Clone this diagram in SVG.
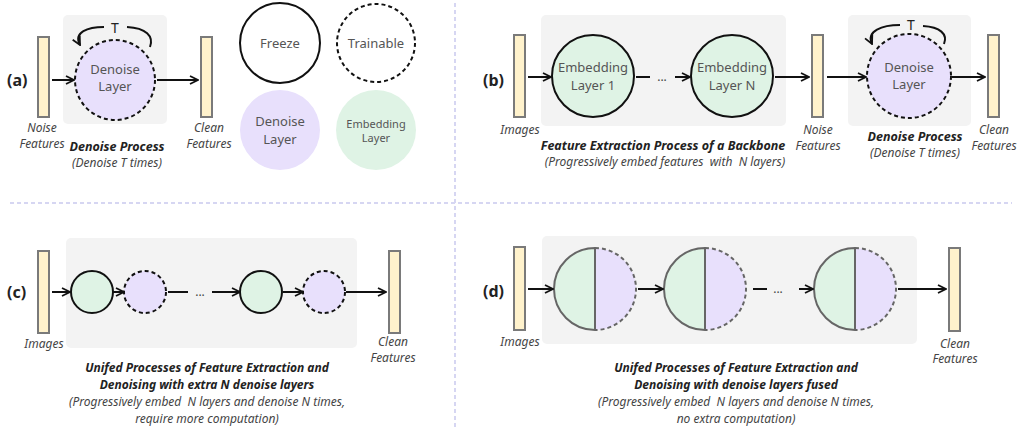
<svg xmlns="http://www.w3.org/2000/svg" width="1020" height="429" viewBox="0 0 1020 429">
<defs>
<marker id="ah" viewBox="0 0 10 10" refX="9" refY="5" markerWidth="10" markerHeight="10" markerUnits="userSpaceOnUse" orient="auto">
<path d="M1,1 L9,5 L1,9" fill="none" stroke="#111" stroke-width="1.8"/>
</marker>
<style>
.bg{fill:#f3f3f3}
.bar{fill:#fff2cc;stroke:#7a7a7a;stroke-width:2}
.den{fill:#e8e0fc}
.emb{fill:#dff3e5}
.solid{stroke:#111;stroke-width:2}
.dash{stroke:#111;stroke-width:2;stroke-dasharray:4 3}
.hs{fill:none;stroke:#666;stroke-width:2}
.hd{fill:none;stroke:#666;stroke-width:2;stroke-dasharray:4 3}
.arr{fill:none;stroke:#111;stroke-width:2;marker-end:url(#ah)}
.ln{fill:none;stroke:#111;stroke-width:2}
.div{stroke:#d6d6f2;stroke-width:2;stroke-dasharray:4 3}
text{font-family:"Noto Sans","Open Sans","Liberation Sans",sans-serif;white-space:pre}
.lab{font-size:16px;font-weight:bold;fill:#222}
.ct{font-size:13px;fill:#555;text-anchor:middle}
.cs{font-size:11px;fill:#555;text-anchor:middle}
.it{font-size:12px;font-style:italic;fill:#444;text-anchor:middle}
.bi{font-size:12.5px;font-style:italic;font-weight:bold;fill:#222;text-anchor:middle}
.bi2{font-size:12px;font-style:italic;font-weight:bold;fill:#222;text-anchor:middle}
.dots{font-size:12px;fill:#444;text-anchor:middle}
</style>
</defs>

<g id="dividers">
<line class="div" x1="455" y1="3" x2="455" y2="427"/>
<line class="div" x1="10" y1="203" x2="1012" y2="203"/>
</g>

<!-- Panel (a) -->
<g id="panel-a">
<text class="lab" x="7" y="86">(a)</text>
<rect class="bg" x="63" y="15" width="104" height="109" rx="5"/>
<g id="a-noise"><rect class="bar" x="38" y="37" width="11" height="80"/>
<text class="it" x="42" y="132">Noise</text><text class="it" x="42" y="148">Features</text></g>
<g id="a-denoise"><circle class="den dash" cx="115" cy="80" r="40"/>
<text class="ct" x="115" y="74">Denoise</text><text class="ct" x="115" y="91">Layer</text></g>
<text x="115" y="33" style="font-size:14px;fill:#222;text-anchor:middle">T</text>
<g id="a-clean"><rect class="bar" x="201" y="37" width="11" height="80"/>
<text class="it" x="209" y="132">Clean</text><text class="it" x="209" y="148">Features</text></g>
<text class="bi" x="117" y="151">Denoise Process</text>
<text class="it" x="117" y="167">(Denoise T times)</text>
</g>

<g id="legend">
<g id="leg-freeze"><circle cx="280" cy="43" r="40" fill="#fff" class="solid"/><text class="ct" x="280" y="48">Freeze</text></g>
<g id="leg-trainable"><circle cx="376" cy="43" r="39" fill="#fff" class="dash"/><text class="ct" x="376" y="48">Trainable</text></g>
<g id="leg-denoise"><circle class="den" cx="280" cy="130" r="40"/><text class="ct" x="280" y="126">Denoise</text><text class="ct" x="280" y="144">Layer</text></g>
<g id="leg-embed"><circle class="emb" cx="376" cy="130" r="40"/><text class="cs" x="376" y="128">Embedding</text><text class="cs" x="376" y="142">Layer</text></g>
</g>

<!-- Panel (b) -->
<g id="panel-b">
<text class="lab" x="483" y="86">(b)</text>
<rect class="bg" x="541" y="15" width="245" height="111" rx="5"/>
<rect class="bg" x="848" y="15" width="123" height="111" rx="5"/>
<g id="b-images"><rect class="bar" x="514" y="35" width="11" height="82"/><text class="it" x="520" y="134">Images</text></g>
<g id="b-emb1"><circle class="emb solid" cx="593" cy="76" r="41"/><text class="ct" x="593" y="72">Embedding</text><text class="ct" x="593" y="90">Layer 1</text></g>
<text class="dots" x="662" y="81">...</text>
<g id="b-embN"><circle class="emb solid" cx="732" cy="76" r="41"/><text class="ct" x="732" y="72">Embedding</text><text class="ct" x="732" y="90">Layer N</text></g>
<g id="b-noise"><rect class="bar" x="812" y="35" width="11" height="82"/><text class="it" x="818" y="134">Noise</text><text class="it" x="818" y="150">Features</text></g>
<g id="b-denoise"><circle class="den dash" cx="909" cy="76" r="42"/><text class="ct" x="909" y="72">Denoise</text><text class="ct" x="909" y="89">Layer</text></g>
<text x="911" y="30" style="font-size:14px;fill:#222;text-anchor:middle">T</text>
<g id="b-clean"><rect class="bar" x="988" y="35" width="11" height="82"/><text class="it" x="994" y="134">Clean</text><text class="it" x="994" y="150">Features</text></g>
<text class="bi" x="663" y="150">Feature Extraction Process of a Backbone</text>
<text class="it" x="665" y="166">(Progressively embed features  with  N layers)</text>
<text class="bi" x="915" y="141">Denoise Process</text>
<text class="it" x="915" y="157">(Denoise T times)</text>
</g>

<!-- Panel (c) -->
<g id="panel-c">
<text class="lab" x="7" y="298">(c)</text>
<rect class="bg" x="66" y="238" width="291" height="110" rx="5"/>
<g id="c-images"><rect class="bar" x="38" y="251" width="11" height="82"/><text class="it" x="44" y="348">Images</text></g>
<g id="c-e1"><circle class="emb solid" cx="92" cy="292" r="21"/></g>
<g id="c-d1"><circle class="den dash" cx="145" cy="292" r="21"/></g>
<text class="dots" x="200" y="296">...</text>
<g id="c-e2"><circle class="emb solid" cx="261" cy="292" r="21"/></g>
<g id="c-d2"><circle class="den dash" cx="324" cy="292" r="21"/></g>
<g id="c-clean"><rect class="bar" x="389" y="251" width="11" height="82"/><text class="it" x="393" y="346">Clean</text><text class="it" x="393" y="362">Features</text></g>
<text class="bi2" x="207" y="372">Unifed Processes of Feature Extraction and</text>
<text class="bi2" x="207" y="389">Denoising with extra N denoise layers</text>
<text class="it" x="207" y="406">(Progressively embed  N layers and denoise N times,</text>
<text class="it" x="207" y="423">require more computation)</text>
</g>

<!-- Panel (d) -->
<g id="panel-d">
<text class="lab" x="483" y="297">(d)</text>
<rect class="bg" x="542" y="236" width="375" height="108" rx="5"/>
<g id="d-images"><rect class="bar" x="514" y="247" width="11" height="83"/><text class="it" x="520" y="346">Images</text></g>
<g id="d-f1">
<path class="emb" d="M595,248 A41,41 0 0 0 595,330 Z"/>
<path class="den" d="M595,248 A41,41 0 0 1 595,330 Z"/>
<path class="hs" d="M595,248 A41,41 0 0 0 595,330 Z"/>
<path class="hd" d="M595,248 A41,41 0 0 1 595,330"/>
</g>
<g id="d-f2">
<path class="emb" d="M705,248 A41,41 0 0 0 705,330 Z"/>
<path class="den" d="M705,248 A41,41 0 0 1 705,330 Z"/>
<path class="hs" d="M705,248 A41,41 0 0 0 705,330 Z"/>
<path class="hd" d="M705,248 A41,41 0 0 1 705,330"/>
</g>
<text class="dots" x="778" y="293">...</text>
<g id="d-f3">
<path class="emb" d="M855,248 A41,41 0 0 0 855,330 Z"/>
<path class="den" d="M855,248 A41,41 0 0 1 855,330 Z"/>
<path class="hs" d="M855,248 A41,41 0 0 0 855,330 Z"/>
<path class="hd" d="M855,248 A41,41 0 0 1 855,330"/>
</g>
<g id="d-clean"><rect class="bar" x="949" y="248" width="11" height="83"/><text class="it" x="955" y="348">Clean</text><text class="it" x="955" y="363">Features</text></g>
<text class="bi2" x="736" y="372">Unifed Processes of Feature Extraction and</text>
<text class="bi2" x="736" y="389">Denoising with denoise layers fused</text>
<text class="it" x="736" y="406">(Progressively embed  N layers and denoise N times,</text>
<text class="it" x="736" y="423">no extra computation)</text>
</g>

<g id="connectors">
<!-- a -->
<line class="arr" x1="52" y1="80" x2="74" y2="80"/>
<line class="arr" x1="157" y1="80" x2="198" y2="80"/>
<path class="ln" d="M150,47 C154,36 146,28 127,27"/>
<path class="arr" d="M104,27 C88,27 73,32 80,45"/>
<!-- b -->
<line class="arr" x1="528" y1="77" x2="551" y2="77"/>
<line class="ln" x1="636" y1="77" x2="650" y2="77"/>
<line class="arr" x1="675" y1="77" x2="690" y2="77"/>
<line class="arr" x1="775" y1="77" x2="809" y2="77"/>
<line class="arr" x1="827" y1="77" x2="866" y2="77"/>
<line class="arr" x1="952" y1="77" x2="985" y2="77"/>
<path class="ln" d="M944,44 C948,34 940,27 923,26"/>
<path class="arr" d="M900,25 C882,25 866,31 872,44"/>
<!-- c -->
<line class="arr" x1="52" y1="292" x2="70" y2="292"/>
<line class="arr" x1="113" y1="292" x2="124" y2="292"/>
<line class="ln" x1="168" y1="292" x2="188" y2="292"/>
<line class="arr" x1="212" y1="292" x2="240" y2="292"/>
<line class="arr" x1="283" y1="292" x2="303" y2="292"/>
<line class="arr" x1="346" y1="292" x2="386" y2="292"/>
<!-- d -->
<line class="arr" x1="528" y1="289" x2="553" y2="289"/>
<line class="arr" x1="638" y1="289" x2="663" y2="289"/>
<line class="ln" x1="753" y1="289" x2="767" y2="289"/>
<line class="arr" x1="799" y1="289" x2="813" y2="289"/>
<line class="arr" x1="898" y1="289" x2="946" y2="289"/>
</g>
</svg>
